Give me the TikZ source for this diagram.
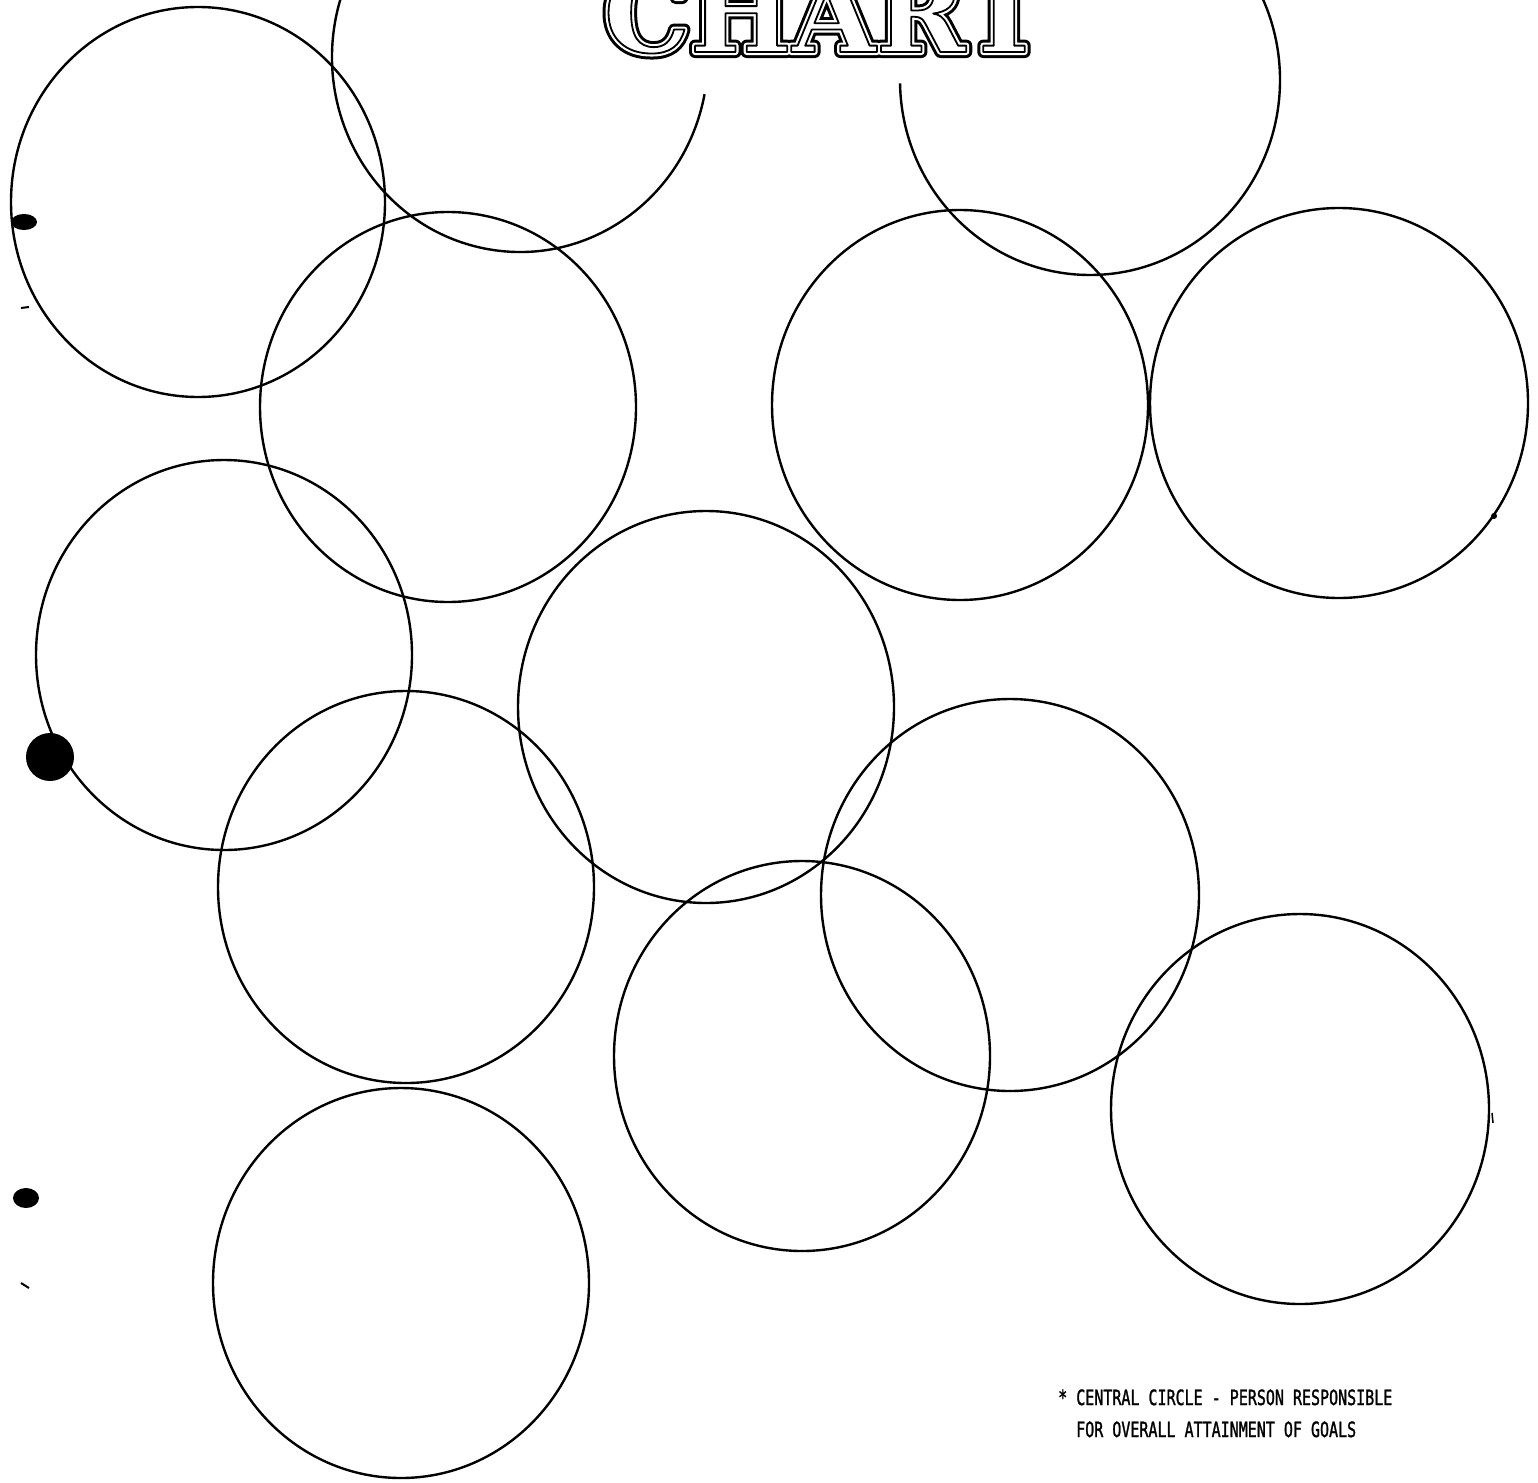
\documentclass[tikz,border=0pt]{standalone}
\usepackage{fontspec}
\usepackage{graphicx}
\newfontfamily\titlefont{DejaVu Serif}
\newfontfamily\notefont[FakeBold=1.6]{DejaVu Sans Mono}
\newcommand\chartword{\titlefont\bfseries\fontsize{108pt}{108pt}\selectfont CHART}
\newcommand\pdfcode[1]{\special{pdf:literal direct #1}}
\tikzset{
  ring/.style={draw=black, line width=2.4pt},
  blob/.style={fill=black, draw=none},
  ttl/.style={anchor=base west, inner sep=0pt, outer sep=0pt},
  note/.style={anchor=base west, inner sep=0pt, font=\notefont\fontsize{15pt}{15pt}\selectfont}
}
\begin{document}
\begin{tikzpicture}[x=1pt,y=-1pt]
\useasboundingbox (0,0) rectangle (1538,1482);
\clip (0,0) rectangle (1538,1482);
\fill[white] (0,0) rectangle (1538,1482);
% full circles
\draw[ring] (198,202) ellipse [x radius=187, y radius=195];
\draw[ring] (448,407) ellipse [x radius=188, y radius=195];
\draw[ring] (960,405) ellipse [x radius=188, y radius=195];
\draw[ring] (1339,403) ellipse [x radius=189, y radius=195];
\draw[ring] (224,655) ellipse [x radius=188, y radius=195];
\draw[ring] (706,707) ellipse [x radius=188, y radius=196];
\draw[ring] (406,887) ellipse [x radius=188, y radius=196];
\draw[ring] (1010,895) ellipse [x radius=189, y radius=196];
\draw[ring] (802,1056) ellipse [x radius=188, y radius=195];
\draw[ring] (1300,1109) ellipse [x radius=189, y radius=195];
\draw[ring] (401,1283) ellipse [x radius=188, y radius=195];
% open circles at the top
\draw[ring] (520,57) ++(11:188 and 195) arc [start angle=11, end angle=220, x radius=188, y radius=195];
\draw[ring] (1090,80) ++(179:190 and 195) arc [start angle=179, end angle=-100, x radius=190, y radius=195];
% note
\node[note] (note1) at (1058,1405) {\scalebox{1}[1.4]{*\ CENTRAL CIRCLE - PERSON RESPONSIBLE}};
\node[note] (note2) at (1076,1437) {\scalebox{1}[1.4]{FOR OVERALL ATTAINMENT OF GOALS}};
% specks from the scan
\fill[blob] (50,757) circle (24);
\fill[blob] (24,222) ellipse [x radius=13, y radius=8];
\fill[blob] (26,1198) ellipse [x radius=13, y radius=10];
\draw[line width=2pt] (21,308) -- (29,307);
\draw[line width=2pt] (21,1283) -- (29,1288);
\fill[blob] (1494,516) circle (3);
\draw[line width=1.5pt] (1492,1113) -- (1493,1123);
% title: thick outer contour, white gap, thin inner contour
\node[ttl, text=black] (titleouter) at (604,52) {\pdfcode{1 Tr 12 w 1 j}\chartword\pdfcode{0 Tr}};
\node[ttl, text=white] (titlegap) at (604,52) {\pdfcode{2 Tr 6 w 1 j}\chartword\pdfcode{0 Tr}};
\node[ttl, text=black] (title) at (604,52) {\pdfcode{1 Tr 1.8 w 1 j}\chartword\pdfcode{0 Tr 0.4 w}};
\end{tikzpicture}
\end{document}
